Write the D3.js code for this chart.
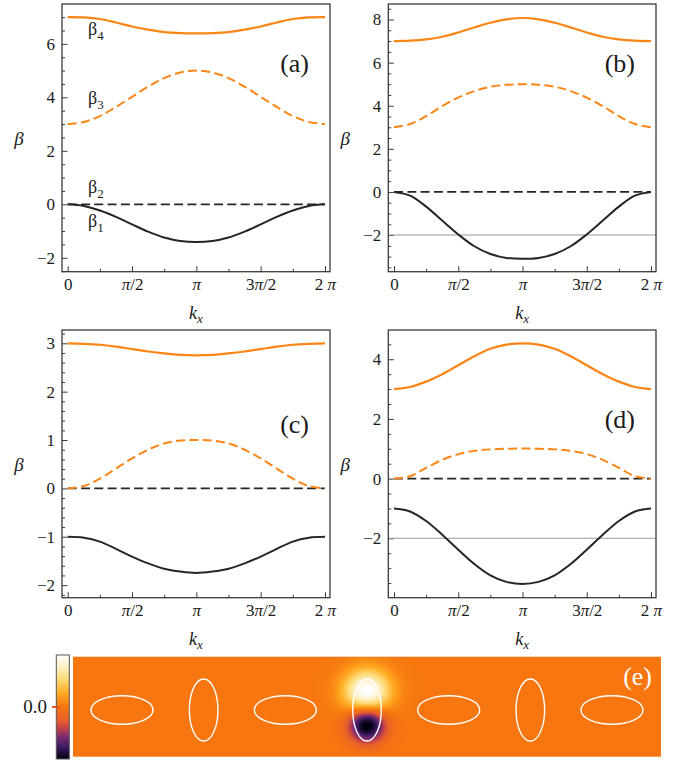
<!DOCTYPE html>
<html>
<head>
<meta charset="utf-8">
<script src="https://cdn.jsdelivr.net/npm/d3@7"></script>
<style>
  body { margin: 0; background: #fff; }
  svg { display: block; }
  text { font-family: "Liberation Serif", "Times New Roman", serif; fill: #1a1a1a; }
</style>
</head>
<body>
<script>
// k_x sample points (in units of pi)
const kxOverPi = [0, 0.125, 0.25, 0.375, 0.5, 0.625, 0.75, 0.875, 1, 1.125, 1.25, 1.375, 1.5, 1.625, 1.75, 1.875, 2];

// panel (a)
const aBeta1 = [0, -0.06, -0.23, -0.47, -0.75, -1.02, -1.24, -1.37, -1.41, -1.37, -1.24, -1.02, -0.75, -0.47, -0.23, -0.06, 0];
const aBeta2 = [0, 0, 0, 0, 0, 0, 0, 0, 0, 0, 0, 0, 0, 0, 0, 0, 0];
const aBeta3 = [3.0, 3.08, 3.3, 3.64, 4.02, 4.4, 4.72, 4.93, 5.0, 4.93, 4.72, 4.4, 4.02, 3.64, 3.3, 3.08, 3.0];
const aBeta4 = [7.0, 6.99, 6.93, 6.8, 6.65, 6.53, 6.44, 6.4, 6.39, 6.4, 6.44, 6.53, 6.65, 6.8, 6.93, 6.99, 7.0];
const aTicks = [-2, 0, 2, 4, 6];

// panel (b)
const bBeta1 = [0, -0.17, -0.68, -1.33, -1.97, -2.52, -2.88, -3.06, -3.1, -3.06, -2.88, -2.52, -1.97, -1.33, -0.68, -0.17, 0];
const bBeta2 = [0, 0, 0, 0, 0, 0, 0, 0, 0, 0, 0, 0, 0, 0, 0, 0, 0];
const bBeta3 = [3.0, 3.15, 3.52, 3.98, 4.38, 4.68, 4.88, 4.97, 5.0, 4.97, 4.88, 4.68, 4.38, 3.98, 3.52, 3.15, 3.0];
const bBeta4 = [7.0, 7.02, 7.08, 7.2, 7.4, 7.63, 7.85, 8.01, 8.07, 8.01, 7.85, 7.63, 7.4, 7.2, 7.08, 7.02, 7.0];
const bTicks = [-2, 0, 2, 4, 6, 8];

// panel (c)
const cBeta1 = [-1.0, -1.02, -1.1, -1.25, -1.41, -1.55, -1.66, -1.72, -1.75, -1.72, -1.66, -1.55, -1.41, -1.25, -1.1, -1.02, -1.0];
const cBeta2 = [0, 0, 0, 0, 0, 0, 0, 0, 0, 0, 0, 0, 0, 0, 0, 0, 0];
const cBeta3 = [0, 0.05, 0.2, 0.41, 0.62, 0.8, 0.93, 0.99, 1.0, 0.99, 0.93, 0.8, 0.62, 0.41, 0.2, 0.05, 0];
const cBeta4 = [3.0, 2.99, 2.97, 2.93, 2.88, 2.83, 2.79, 2.76, 2.75, 2.76, 2.79, 2.83, 2.88, 2.93, 2.97, 2.99, 3.0];
const cTicks = [-2, -1, 0, 1, 2, 3];

// panel (d)
const dBeta1 = [-1.0, -1.1, -1.42, -1.88, -2.38, -2.86, -3.24, -3.46, -3.53, -3.46, -3.24, -2.86, -2.38, -1.88, -1.42, -1.1, -1.0];
const dBeta2 = [0, 0, 0, 0, 0, 0, 0, 0, 0, 0, 0, 0, 0, 0, 0, 0, 0];
const dBeta3 = [0, 0.08, 0.36, 0.63, 0.82, 0.93, 0.98, 1.0, 1.01, 1.0, 0.98, 0.93, 0.82, 0.63, 0.36, 0.08, 0];
const dBeta4 = [3.0, 3.07, 3.25, 3.5, 3.8, 4.1, 4.35, 4.49, 4.53, 4.49, 4.35, 4.1, 3.8, 3.5, 3.25, 3.07, 3.0];
const dTicks = [-2, 0, 2, 4];

// reference level drawn in (b) and (d)
const refLevel = -2;

// x ticks (in units of pi)
const xTickValues = [0, 0.5, 1, 1.5, 2];
const xTickLabels = ["0", "π/2", "π", "3π/2", "2 π"];
const xMinorTicks = [0.25, 0.75, 1.25, 1.75];

// panel (e): waveguides and field lobes
const guidePos = [-3, -2, -1, 0, 1, 2, 3];
const guideOrient = ["h", "v", "h", "v", "h", "v", "h"];
const lobeX = [0, 0];
const lobeY = [0.23, -0.18];
const lobeAmp = [1.05, -1.12];
const lobeSx = [0.28, 0.22];
const lobeSy = [0.26, 0.21];

// colour bar
const cbValues = [-1, -0.77, -0.58, -0.42, -0.25, 0, 0.26, 0.51, 0.8, 1];
const cbColors = ["#050010", "#3a1a60", "#7a2a70", "#c04048", "#e8602a", "#f7760f", "#ffaa20", "#ffd870", "#fff2cc", "#ffffff"];

const W = 690, H = 763;
const orange = "#fb8616", dark = "#262626";
const PI = Math.PI;

const svg = d3.select("body").append("svg").attr("width", W).attr("height", H);

const panels = [
  { name: "(a)", b1: aBeta1, b2: aBeta2, b3: aBeta3, b4: aBeta4, ticks: aTicks, minor: 0.5,
    domain: [-2.52, 7.49], box: [62, 4, 330, 271.7], label: [309, 72], ref: false, names: true },
  { name: "(b)", b1: bBeta1, b2: bBeta2, b3: bBeta3, b4: bBeta4, ticks: bTicks, minor: 0.5,
    domain: [-3.7, 8.72], box: [388.3, 4, 656, 271.7], label: [635, 72], ref: true, names: false },
  { name: "(c)", b1: cBeta1, b2: cBeta2, b3: cBeta3, b4: cBeta4, ticks: cTicks, minor: 0.2,
    domain: [-2.26, 3.275], box: [62, 330, 330, 597.7], label: [309, 433], ref: false, names: false },
  { name: "(d)", b1: dBeta1, b2: dBeta2, b3: dBeta3, b4: dBeta4, ticks: dTicks, minor: 0.5,
    domain: [-3.99, 4.98], box: [388.3, 330, 656, 597.7], label: [635, 428], ref: true, names: false }
];

panels.forEach(p => {
  const [x0, y0, x1, y1] = p.box;
  const g = svg.append("g");
  const x = d3.scaleLinear().domain([0, 2 * PI]).range([x0 + 5.7, x1 - 5]);
  const y = d3.scaleLinear().domain(p.domain).range([y1, y0]);

  // minor y ticks
  const minorY = d3.range(Math.ceil(p.domain[0] / p.minor) * p.minor, p.domain[1], p.minor)
    .map(v => +v.toFixed(6))
    .filter(v => !p.ticks.includes(v));
  g.append("g").attr("transform", `translate(${x0},0)`)
    .call(d3.axisLeft(y).tickValues(minorY).tickSize(-3).tickFormat(""))
    .call(s => s.select(".domain").remove());
  const yAx = g.append("g").attr("transform", `translate(${x0},0)`)
    .call(d3.axisLeft(y).tickValues(p.ticks).tickSize(-5.5).tickPadding(7).tickFormat(d3.format("d")))
    .call(s => s.select(".domain").remove());
  yAx.selectAll("text").attr("font-family", null).style("font-size", "17px").attr("fill", "#1a1a1a");

  // x ticks
  g.append("g").attr("transform", `translate(0,${y1})`)
    .call(d3.axisBottom(x).tickValues(xMinorTicks.map(v => v * PI)).tickSize(-3).tickFormat(""))
    .call(s => s.select(".domain").remove());
  const xAx = g.append("g").attr("transform", `translate(0,${y1})`)
    .call(d3.axisBottom(x).tickValues(xTickValues.map(v => v * PI)).tickSize(-5.5).tickPadding(6)
      .tickFormat((d, i) => xTickLabels[i]))
    .call(s => s.select(".domain").remove());
  xAx.selectAll("text").attr("font-family", null).style("font-size", "17px").attr("fill", "#1a1a1a")
    .each(function () {
      const t = d3.select(this);
      const s = t.text();
      t.text(null);
      s.split(/(π)/).filter(c => c.length).forEach(c => {
        t.append("tspan").text(c).style("font-style", c === "π" ? "italic" : "normal");
      });
    });
  g.selectAll(".tick line").attr("stroke", "#3a3a3a").attr("stroke-width", 1);

  // reference line
  if (p.ref) {
    g.append("line").attr("x1", x0).attr("x2", x1).attr("y1", y(refLevel)).attr("y2", y(refLevel))
      .attr("stroke", "#9a9a9a").attr("stroke-width", 1.1);
  }

  const line = d3.line().x((d, i) => x(kxOverPi[i] * PI)).y(d => y(d)).curve(d3.curveCatmullRom.alpha(0.5));
  g.append("path").attr("d", line(p.b2)).attr("fill", "none").attr("stroke", dark)
    .attr("stroke-width", 1.8).attr("stroke-dasharray", "9,4.3");
  g.append("path").attr("d", line(p.b1)).attr("fill", "none").attr("stroke", dark).attr("stroke-width", 2);
  g.append("path").attr("d", line(p.b3)).attr("fill", "none").attr("stroke", orange)
    .attr("stroke-width", 2).attr("stroke-dasharray", "9,4.3");
  g.append("path").attr("d", line(p.b4)).attr("fill", "none").attr("stroke", orange).attr("stroke-width", 2.2);

  // frame
  g.append("rect").attr("x", x0).attr("y", y0).attr("width", x1 - x0).attr("height", y1 - y0)
    .attr("fill", "none").attr("stroke", "#3a3a3a").attr("stroke-width", 1.3);

  // axis labels
  g.append("text").attr("x", x0 - 43).attr("y", (y0 + y1) / 2 + 7).attr("text-anchor", "middle")
    .style("font-size", "19px").style("font-style", "italic").text("β");
  const kl = g.append("text").attr("x", (x0 + x1) / 2).attr("y", y1 + 47).attr("text-anchor", "middle")
    .style("font-size", "18px").style("font-style", "italic");
  kl.append("tspan").text("k");
  kl.append("tspan").attr("dy", 4).style("font-size", "13px").text("x");

  g.append("text").attr("x", p.label[0]).attr("y", p.label[1]).attr("text-anchor", "end")
    .style("font-size", "26px").text(p.name);

  if (p.names) {
    const nm = [[4, 35], [3, 104], [2, 193], [1, 227]];
    nm.forEach(([n, by]) => {
      const t = g.append("text").attr("x", 88).attr("y", by).style("font-size", "18px");
      t.append("tspan").text("β");
      t.append("tspan").attr("dy", 5).style("font-size", "13px").text(n);
    });
  }
});

// ---- panel (e) ----
const colour = d3.scaleLinear().domain(cbValues).range(cbColors).clamp(true);
const ex = d3.scaleLinear().domain([-3.6, 3.6]).range([73, 661]);
const ey = d3.scaleLinear().domain([-0.572, 0.653]).range([756.7, 656.7]);

const cw = Math.round(ex.range()[1] - ex.range()[0]);
const ch = Math.round(ey.range()[0] - ey.range()[1]);
const canvas = document.createElement("canvas");
canvas.width = cw; canvas.height = ch;
const ctx = canvas.getContext("2d");
const img = ctx.createImageData(cw, ch);
for (let j = 0; j < ch; j++) {
  const yv = ey.invert(ey.range()[1] + j + 0.5);
  for (let i = 0; i < cw; i++) {
    const xv = ex.invert(ex.range()[0] + i + 0.5);
    let v = 0;
    for (let k = 0; k < lobeAmp.length; k++) {
      const dx = (xv - lobeX[k]) / lobeSx[k], dy = (yv - lobeY[k]) / lobeSy[k];
      v += lobeAmp[k] * Math.exp(-(dx * dx + dy * dy));
    }
    const c = d3.rgb(colour(v));
    const o = (j * cw + i) * 4;
    img.data[o] = c.r; img.data[o + 1] = c.g; img.data[o + 2] = c.b; img.data[o + 3] = 255;
  }
}
ctx.putImageData(img, 0, 0);
svg.append("image").attr("x", ex.range()[0]).attr("y", ey.range()[1])
  .attr("width", cw).attr("height", ch).attr("href", canvas.toDataURL());

const semiLong = 0.38, semiShort = 0.175;
svg.append("g").selectAll("ellipse").data(guidePos).join("ellipse")
  .attr("cx", d => ex(d)).attr("cy", ey(0))
  .attr("rx", (d, i) => (ex(guideOrient[i] === "h" ? semiLong : semiShort) - ex(0)))
  .attr("ry", (d, i) => (ex(guideOrient[i] === "h" ? semiShort : semiLong) - ex(0)))
  .attr("fill", "none").attr("stroke", "#fff").attr("stroke-width", 1.4);

svg.append("text").attr("x", 652).attr("y", 685).attr("text-anchor", "end")
  .style("font-size", "26px").style("fill", "#fff").text("(e)");

// colour bar
const cy = d3.scaleLinear().domain([-1, 1]).range([759, 655]);
const grad = svg.append("defs").append("linearGradient").attr("id", "cb")
  .attr("x1", 0).attr("x2", 0).attr("y1", 1).attr("y2", 0);
grad.selectAll("stop").data(cbValues).join("stop")
  .attr("offset", d => (d + 1) / 2).attr("stop-color", d => colour(d));
svg.append("rect").attr("x", 56.3).attr("y", cy(1)).attr("width", 13).attr("height", cy(-1) - cy(1))
  .attr("fill", "url(#cb)").attr("stroke", "#555").attr("stroke-width", 1);
svg.append("line").attr("x1", 52).attr("x2", 60).attr("y1", cy(0)).attr("y2", cy(0))
  .attr("stroke", "#e8561e").attr("stroke-width", 2);
svg.append("text").attr("x", 47).attr("y", cy(0) + 6).attr("text-anchor", "end")
  .style("font-size", "19px").text(d3.format(".1f")(0));
</script>
</body>
</html>
